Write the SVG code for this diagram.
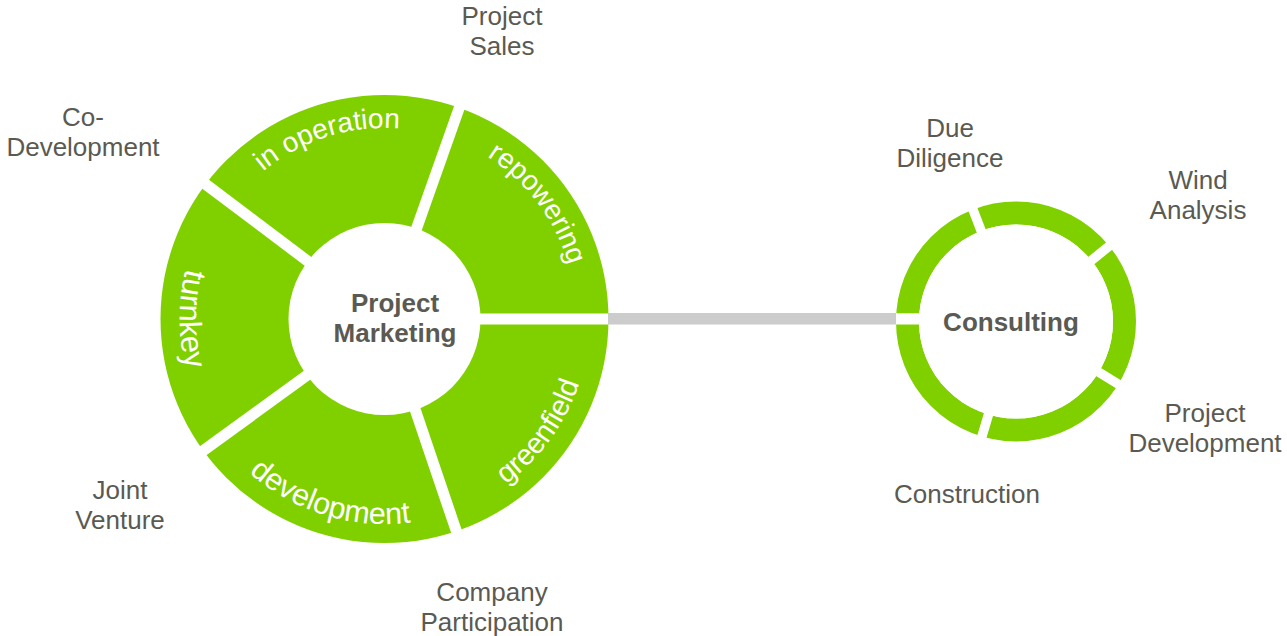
<svg xmlns="http://www.w3.org/2000/svg" width="1287" height="636" viewBox="0 0 1287 636">
<defs>
<style>
.ring{fill:#80d000}
.hole{fill:#ffffff}
.gap{stroke:#ffffff;stroke-width:11;stroke-linecap:butt}
.gap2{stroke:#ffffff;stroke-width:9.5;stroke-linecap:butt}
.seg{font-family:"Liberation Sans",Arial,sans-serif;font-size:28px;fill:#ffffff}
.lbl{font-family:"Liberation Sans",Arial,sans-serif;font-size:26px;fill:#5a5a52;text-anchor:middle}
.hub{font-family:"Liberation Sans",Arial,sans-serif;font-size:26px;font-weight:bold;fill:#5a5a52;text-anchor:middle}
</style>
<path id="p-inop" d="M197.1,277.4 A193,193 0 0 1 514.2,177.4"/>
<path id="p-repow" d="M361.1,128.4 A192,192 0 0 1 561.2,394.0"/>
<path id="p-turn" d="M282,141.5 A205,205 0 0 0 282,496.5"/>
<path id="p-dev" d="M184.7,365.1 A205,205 0 0 0 524.3,468.9"/>
<path id="p-green" d="M363.1,522.9 A205,205 0 0 0 571.8,235.6"/>
</defs>
<rect width="1287" height="636" fill="#ffffff"/>
<g id="project-marketing">
<circle class="ring" cx="384.5" cy="319" r="224"/>
<line class="gap" x1="384.5" y1="319" x2="610.5" y2="319"/>
<line class="gap" x1="384.5" y1="319" x2="459.9" y2="106.0"/>
<line class="gap" x1="384.5" y1="319" x2="204.0" y2="183.0"/>
<line class="gap" x1="384.5" y1="319" x2="201.7" y2="451.8"/>
<line class="gap" x1="384.5" y1="319" x2="457.0" y2="533.1"/>
<circle class="hole" cx="384.5" cy="319" r="96"/>
<text class="seg"><textPath href="#p-inop" startOffset="50%" text-anchor="middle">in operation</textPath></text>
<text class="seg"><textPath href="#p-repow" startOffset="50%" text-anchor="middle">repowering</textPath></text>
<text class="seg" style="font-size:31px"><textPath href="#p-turn" startOffset="50%" text-anchor="middle">turnkey</textPath></text>
<text class="seg" style="font-size:30.5px"><textPath href="#p-dev" startOffset="50%" text-anchor="middle">development</textPath></text>
<text class="seg" style="font-size:29px"><textPath href="#p-green" startOffset="50%" text-anchor="middle">greenfield</textPath></text>
<text class="hub" x="395" y="312">Project</text>
<text class="hub" x="395" y="342">Marketing</text>
</g>
<g id="consulting">
<circle cx="1016" cy="321.5" r="108.5" fill="none" stroke="#80d000" stroke-width="23"/>
<rect x="888" y="313.3" width="40" height="11.2" fill="#ffffff"/>
<line class="gap2" x1="1016" y1="321.5" x2="970.8" y2="203.9"/>
<line class="gap2" x1="1016" y1="321.5" x2="1113.9" y2="242.2"/>
<line class="gap2" x1="1016" y1="321.5" x2="1123.4" y2="387.3"/>
<line class="gap2" x1="1016" y1="321.5" x2="980.2" y2="442.3"/>
<circle class="hole" cx="1016" cy="321.5" r="97"/>
<text class="hub" x="1011" y="331">Consulting</text>
</g>
<g id="connectors">
<rect x="608" y="313" width="288" height="11.5" fill="#cccccc"/>
</g>
<g id="labels">
<text class="lbl" x="502" y="25">Project</text>
<text class="lbl" x="502" y="55">Sales</text>
<text class="lbl" x="83" y="125.5">Co-</text>
<text class="lbl" x="83" y="156">Development</text>
<text class="lbl" x="120" y="498.5">Joint</text>
<text class="lbl" x="120" y="529">Venture</text>
<text class="lbl" x="492" y="600.5">Company</text>
<text class="lbl" x="492" y="631">Participation</text>
<text class="lbl" x="950" y="136.5">Due</text>
<text class="lbl" x="950" y="167">Diligence</text>
<text class="lbl" x="1198" y="188.5">Wind</text>
<text class="lbl" x="1198" y="219">Analysis</text>
<text class="lbl" x="1205" y="421.5">Project</text>
<text class="lbl" x="1205" y="452">Development</text>
<text class="lbl" x="967" y="503">Construction</text>
</g>
</svg>
